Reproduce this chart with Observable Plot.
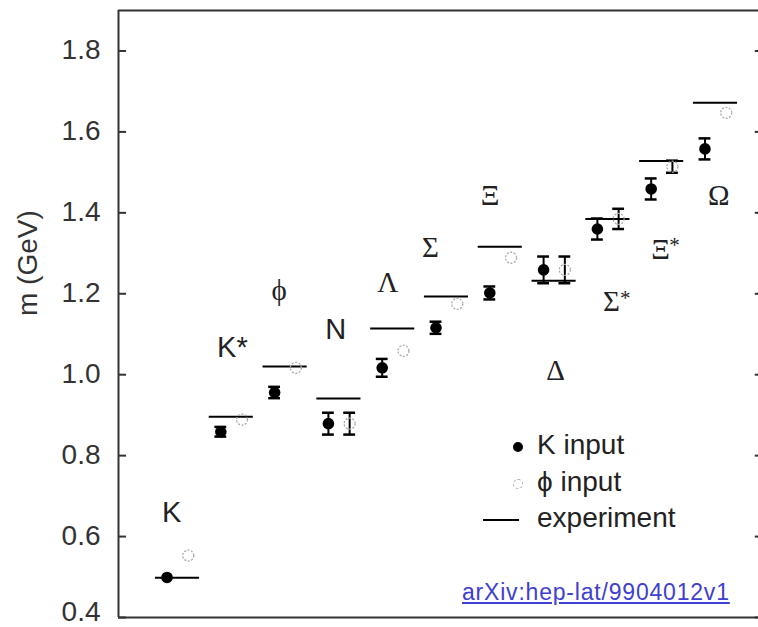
<!DOCTYPE html>
<html>
<head>
<meta charset="utf-8">
<script src="https://cdn.jsdelivr.net/npm/d3@7"></script>
<script src="https://cdn.jsdelivr.net/npm/@observablehq/plot@0.6"></script>
<style>
html, body { margin: 0; padding: 0; background: #fff; overflow: hidden; }
#wrap { position: relative; width: 758px; height: 627px; }
#wrap svg { position: absolute; left: 0; top: 0; }
.row { position: absolute; left: 478px; height: 36px; line-height: 36px;
       font: 28px "Liberation Sans", Arial, sans-serif; color: #222; white-space: nowrap; }
.sym { display: inline-block; position: relative; width: 59px; height: 36px; vertical-align: top; }
.sym i { position: absolute; display: block; box-sizing: border-box; }
.dot  { left: 35px; top: 13px; width: 10px; height: 10px; border-radius: 50%; background: #000; }
.odot { left: 35px; top: 13px; width: 10px; height: 10px; border-radius: 50%; border: 1.3px dashed #aaa; }
.line { left: 5px; top: 17px; width: 36px; height: 2px; background: #000; }
.src { position: absolute; left: 462px; top: 581px; font: 23px "Liberation Sans", Arial, sans-serif;
       line-height: 22px; letter-spacing: 0.8px; color: #4040d0; text-decoration: underline; white-space: nowrap; }
</style>
</head>
<body>
<div id="wrap">
  <div class="row" style="top:429px"><span class="sym"><i class="dot"></i></span>K input</div>
  <div class="row" style="top:466px"><span class="sym"><i class="odot"></i></span>ϕ input</div>
  <div class="row" style="top:502px"><span class="sym"><i class="line"></i></span>experiment</div>
  <div class="src">arXiv:hep-lat/9904012v1</div>
</div>
<script>
// ---- data (GeV) ----
const particles  = ["K", "K*", "ϕ", "N", "Λ", "Σ", "Ξ", "Δ", "Σ*", "Ξ*", "Ω"];
const kInput     = [0.499, 0.859, 0.956, 0.879, 1.017, 1.116, 1.202, 1.259, 1.360, 1.459, 1.558];
const kErr       = [0.000, 0.012, 0.014, 0.027, 0.022, 0.015, 0.016, 0.033, 0.026, 0.026, 0.026];
const phiInput   = [0.553, 0.889, 1.017, 0.879, 1.059, 1.175, 1.289, 1.259, 1.385, 1.514, 1.647];
const phiErr     = [0.000, 0.000, 0.000, 0.027, 0.000, 0.000, 0.000, 0.033, 0.025, 0.015, 0.000];
const experiment = [0.498, 0.896, 1.020, 0.941, 1.114, 1.193, 1.316, 1.232, 1.385, 1.528, 1.672];
// particle name annotations (offset from group index, mass position)
const labelDx    = [-0.11, 0.02, -0.11, -0.06, -0.09, -0.30, -0.19, 0.03, 0.065, -0.02, 0.06];
const labelY     = [0.659, 1.067, 1.207, 1.111, 1.227, 1.314, 1.442, 1.010, 1.180, 1.310, 1.442];
const yTicks     = [0.4, 0.6, 0.8, 1.0, 1.2, 1.4, 1.6, 1.8];

// ---- derived tables ----
const X0 = -1.097, X1 = 10.80;
const groups = particles.map((name, i) => ({
  name, i, exp: experiment[i], lx: i + labelDx[i], ly: labelY[i]
}));
const kPts   = particles.map((p, i) => ({ x: i - 0.195, y: kInput[i], e: kErr[i] }));
const phiPts = particles.map((p, i) => ({ x: i + 0.20, y: phiInput[i], e: phiErr[i] }));
const errPts = [...kPts, ...phiPts].filter(d => d.e > 0);
const isSans = s => /^[A-Za-z*]+$/.test(s);
const serifLabels = groups.filter(g => !isSans(g.name));
const starLabels  = serifLabels.filter(g => g.name.endsWith("*"));
const axisOpts = { tickSize: 0, tickPadding: 18, fontSize: 28, color: "#333",
                   tickFormat: d => d.toFixed(1), label: null };

const chart = Plot.plot({
  width: 758, height: 627,
  marginLeft: 118, marginRight: 0, marginTop: 10, marginBottom: 10,
  style: { background: "transparent", fontFamily: "'Liberation Sans', Arial, sans-serif", overflow: "visible" },
  x: { domain: [X0, X1], axis: null },
  y: { domain: [0.4, 1.9], axis: null },
  marks: [
    // frame (left, top, bottom)
    Plot.ruleX([X0], { stroke: "#333", strokeWidth: 2 }),
    Plot.ruleY([0.4, 1.9], { stroke: "#333", strokeWidth: 2.2 }),
    // inward ticks
    Plot.ruleY(yTicks, { x1: X0, x2: X0 + 0.15, stroke: "#333", strokeWidth: 2 }),
    Plot.ruleY(yTicks, { x1: X1 - 0.06, x2: X1, stroke: "#333", strokeWidth: 2 }),
    Plot.axisY(yTicks.slice(1), { ...axisOpts, dy: -1 }),
    Plot.axisY(yTicks.slice(0, 1), { ...axisOpts, dy: -5 }),
    Plot.text(["m (GeV)"], { text: d => d, frameAnchor: "left", dx: -90, dy: 2, rotate: -90,
                             fontSize: 28, fill: "#333" }),
    // experiment
    Plot.ruleY(groups, { y: "exp", x1: d => d.i - 0.41, x2: d => d.i + 0.41, stroke: "#000", strokeWidth: 2 }),
    // error bars
    Plot.ruleX(errPts, { x: "x", y1: d => d.y - d.e, y2: d => d.y + d.e, stroke: "#000", strokeWidth: 2 }),
    Plot.ruleY(errPts, { y: d => d.y - d.e, x1: d => d.x - 0.11, x2: d => d.x + 0.11, stroke: "#000", strokeWidth: 2.5 }),
    Plot.ruleY(errPts, { y: d => d.y + d.e, x1: d => d.x - 0.11, x2: d => d.x + 0.11, stroke: "#000", strokeWidth: 2.5 }),
    // points
    Plot.dot(phiPts, { x: "x", y: "y", r: 5.5, fill: "none", stroke: "#aaa", strokeWidth: 1.3, strokeDasharray: "2,1.5" }),
    Plot.dot(kPts, { x: "x", y: "y", r: 5.8, fill: "#000" }),
    // particle names
    Plot.text(groups.filter(g => isSans(g.name)), { x: "lx", y: "ly", text: "name", fontSize: 29,
      fontFamily: "'Liberation Sans', Arial, sans-serif", fill: "#222" }),
    Plot.text(serifLabels, { x: "lx", y: "ly", text: d => d.name.replace("*", ""), fontSize: 29,
      fontFamily: "'Liberation Serif', 'Times New Roman', serif", fill: "#222" }),
    Plot.text(starLabels, { x: "lx", y: "ly", text: () => "*", dx: 14, dy: -4, fontSize: 21,
      fontFamily: "'Liberation Serif', 'Times New Roman', serif", fill: "#222" })
  ]
});
document.getElementById("wrap").prepend(chart);
</script>
</body>
</html>
